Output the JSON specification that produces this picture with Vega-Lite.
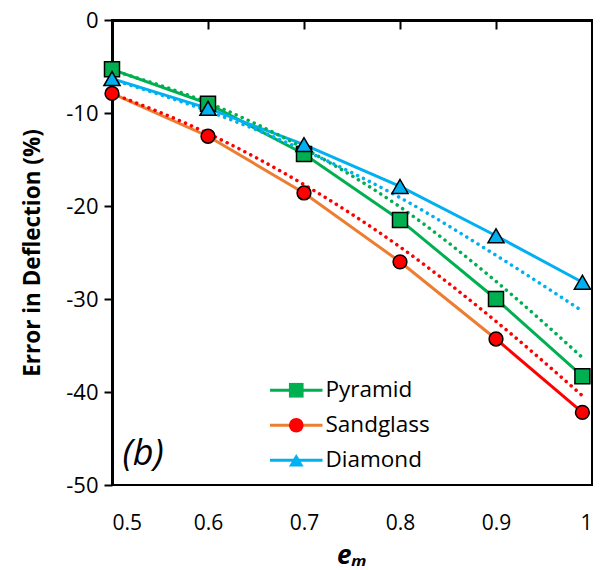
{
  "$schema": "https://vega.github.io/schema/vega-lite/v6.json",
  "width": 480,
  "height": 465,
  "autosize": {"type": "none"},
  "padding": {"left": 112, "top": 20, "right": 16, "bottom": 85},
  "background": "white",
  "config": {
    "view": {"stroke": "black", "strokeWidth": 2},
    "font": "Open Sans",
    "axis": {"labelFont": "Open Sans", "titleFont": "Open Sans", "labelColor": "black", "titleColor": "black", "grid": false, "domainColor": "black", "tickColor": "black"},
    "legend": {"labelFont": "Open Sans", "labelColor": "black"}
  },
  "datasets": {
    "measured": [
      {"em": 0.5, "series": "Pyramid", "err": -5.3},
      {"em": 0.6, "series": "Pyramid", "err": -9.0},
      {"em": 0.7, "series": "Pyramid", "err": -14.4},
      {"em": 0.8, "series": "Pyramid", "err": -21.5},
      {"em": 0.9, "series": "Pyramid", "err": -30.0},
      {"em": 0.99, "series": "Pyramid", "err": -38.3},
      {"em": 0.5, "series": "Sandglass", "err": -7.9},
      {"em": 0.6, "series": "Sandglass", "err": -12.5},
      {"em": 0.7, "series": "Sandglass", "err": -18.6},
      {"em": 0.8, "series": "Sandglass", "err": -26.0},
      {"em": 0.9, "series": "Sandglass", "err": -34.3},
      {"em": 0.99, "series": "Sandglass", "err": -42.2},
      {"em": 0.5, "series": "Diamond", "err": -6.3},
      {"em": 0.6, "series": "Diamond", "err": -9.5},
      {"em": 0.7, "series": "Diamond", "err": -13.4},
      {"em": 0.8, "series": "Diamond", "err": -17.9},
      {"em": 0.9, "series": "Diamond", "err": -23.2},
      {"em": 0.99, "series": "Diamond", "err": -28.2}
    ],
    "trend": [
      {"em": 0.5, "series": "Pyramid", "err": -5.4},
      {"em": 0.6, "series": "Pyramid", "err": -8.9},
      {"em": 0.7, "series": "Pyramid", "err": -13.8},
      {"em": 0.8, "series": "Pyramid", "err": -20.1},
      {"em": 0.9, "series": "Pyramid", "err": -28.1},
      {"em": 0.99, "series": "Pyramid", "err": -36.3},
      {"em": 0.5, "series": "Sandglass", "err": -7.9},
      {"em": 0.6, "series": "Sandglass", "err": -12.2},
      {"em": 0.7, "series": "Sandglass", "err": -17.7},
      {"em": 0.8, "series": "Sandglass", "err": -24.4},
      {"em": 0.9, "series": "Sandglass", "err": -32.4},
      {"em": 0.99, "series": "Sandglass", "err": -40.4},
      {"em": 0.5, "series": "Diamond", "err": -6.4},
      {"em": 0.6, "series": "Diamond", "err": -9.8},
      {"em": 0.7, "series": "Diamond", "err": -14.0},
      {"em": 0.8, "series": "Diamond", "err": -19.1},
      {"em": 0.9, "series": "Diamond", "err": -25.3},
      {"em": 0.99, "series": "Diamond", "err": -31.3}
    ]
  },
  "layer": [
    {
      "data": {"name": "measured"},
      "transform": [{"filter": "datum.series != 'Sandglass' || datum.em <= 0.9"}],
      "mark": {"type": "line", "strokeWidth": 3},
      "encoding": {
        "x": {
          "field": "em", "type": "quantitative",
          "scale": {"domain": [0.5, 1], "nice": false, "zero": false},
          "axis": {"orient": "bottom", "values": [0.5, 0.6, 0.7, 0.8, 0.9, 1], "format": "~g", "ticks": false, "domain": false, "labelFontSize": 21, "labelPadding": 27, "title": "eₘ", "titleFontSize": 26, "titleFontStyle": "italic", "titleFontWeight": "bold", "titlePadding": 9}
        },
        "y": {
          "field": "err", "type": "quantitative",
          "scale": {"domain": [-50, 0], "nice": false, "zero": false},
          "axis": {"values": [-50, -40, -30, -20, -10, 0], "labelExpr": "replace(datum.label, '−', '-')", "domainWidth": 3, "tickSize": 8, "tickWidth": 2, "labelFontSize": 22, "labelPadding": 6, "title": "Error in Deflection (%)", "titleFontSize": 22.5, "titleFontWeight": "bold", "titlePadding": 21}
        },
        "stroke": {
          "field": "series", "type": "nominal", "sort": ["Pyramid", "Sandglass", "Diamond"],
          "scale": {"range": ["#00B050", "#ED7D31", "#00B0F0"]},
          "legend": {"orient": "none", "legendX": 173, "legendY": 359, "title": null, "padding": 0, "symbolType": "M-3.5,0H3.5", "symbolSize": 225, "symbolStrokeWidth": 3, "labelFontSize": 22.5, "labelOffset": 18, "rowPadding": 12}
        }
      }
    },
    {
      "data": {"name": "measured"},
      "transform": [{"filter": "datum.series == 'Sandglass' && datum.em >= 0.9"}],
      "mark": {"type": "line", "strokeWidth": 3, "color": "#FF0000"},
      "encoding": {
        "x": {"field": "em", "type": "quantitative", "axis": null},
        "y": {"field": "err", "type": "quantitative"}
      }
    },
    {
      "data": {"name": "trend"},
      "mark": {"type": "line", "strokeWidth": 3.5, "strokeDash": [0.1, 6.5], "strokeCap": "round", "interpolate": "monotone"},
      "encoding": {
        "x": {"field": "em", "type": "quantitative", "axis": {"orient": "top", "values": [0.6, 0.7, 0.8, 0.9], "labels": false, "tickSize": -9, "tickWidth": 2, "domainWidth": 3, "title": null}},
        "y": {"field": "err", "type": "quantitative"},
        "color": {"field": "series", "type": "nominal", "scale": {"range": ["#00B0F0", "#00B050", "#FF0000"]}, "legend": null}
      }
    },
    {
      "data": {"name": "measured"},
      "mark": {"type": "point", "filled": true, "stroke": "black", "strokeWidth": 1.5, "opacity": 1},
      "encoding": {
        "x": {"field": "em", "type": "quantitative", "axis": null},
        "y": {"field": "err", "type": "quantitative"},
        "fill": {
          "field": "series", "type": "nominal",
          "scale": {"domain": ["Pyramid", "Sandglass", "Diamond"], "range": ["#00B050", "#FF0000", "#00B0F0"]},
          "legend": {"orient": "none", "legendX": 173, "legendY": 359, "title": null, "padding": 0, "symbolSize": 215, "symbolStrokeColor": "black", "symbolStrokeWidth": 1.5, "labelFontSize": 22.5, "labelExpr": "''", "rowPadding": 12}
        },
        "shape": {
          "field": "series", "type": "nominal",
          "scale": {"domain": ["Pyramid", "Sandglass", "Diamond"], "range": ["square", "circle", "triangle-up"]},
          "legend": {"orient": "none", "legendX": 173, "legendY": 359, "title": null, "padding": 0, "symbolSize": 215, "symbolStrokeColor": "black", "symbolStrokeWidth": 1.5, "labelFontSize": 22.5, "labelExpr": "''", "rowPadding": 12}
        },
        "size": {
          "field": "series", "type": "nominal",
          "scale": {"range": [260, 190, 160]},
          "legend": null
        }
      }
    },
    {
      "data": {"values": [{"label": "(b)"}]},
      "mark": {"type": "text", "font": "Open Sans", "fontSize": 36, "fontStyle": "italic", "align": "left", "baseline": "alphabetic", "color": "black"},
      "encoding": {
        "x": {"datum": 0.511, "type": "quantitative", "axis": null},
        "y": {"datum": -47.8, "type": "quantitative"},
        "text": {"field": "label"}
      }
    }
  ],
  "resolve": {"axis": {"x": "independent"}}
}
